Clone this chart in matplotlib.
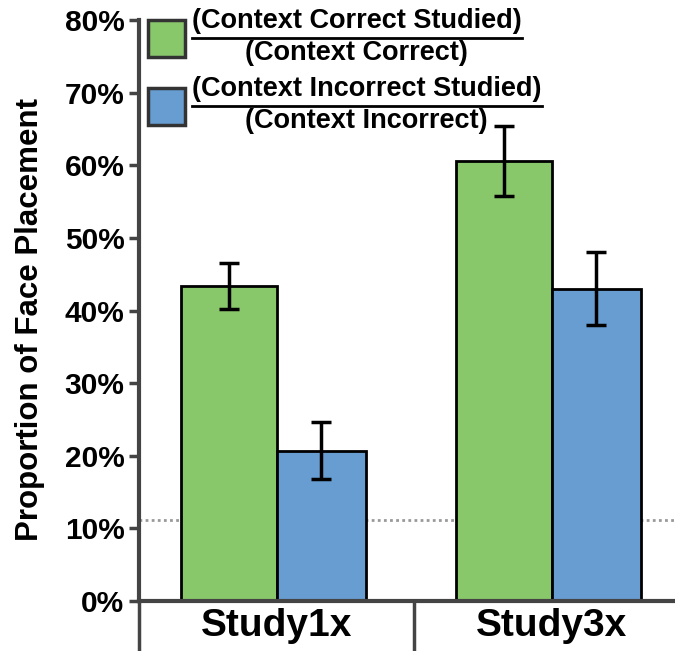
import numpy as np
import matplotlib.pyplot as plt

plt.rcParams['font.family'] = ['Liberation Sans', 'DejaVu Sans']
plt.rcParams['font.weight'] = 'bold'
plt.rcParams['axes.labelweight'] = 'bold'

groups = ["Study1x", "Study3x"]
correct = [0.434, 0.606]
correct_err = [0.032, 0.048]
incorrect = [0.207, 0.430]
incorrect_err = [0.039, 0.050]
chance = 1 / 9

green = '#89C86A'
blue = '#689DD2'
axis_gray = '#444444'

W, H = 675, 651
fig = plt.figure(figsize=(W / 100, H / 100), dpi=100)
ax = fig.add_axes([139 / W, 50 / H, 536 / W, 581 / H])

x = np.arange(len(groups))
wg, wb = 0.347, 0.327
ax.bar(x - wg, correct, wg, align='edge', color=green, edgecolor='black', linewidth=2, zorder=2)
ax.bar(x, incorrect, wb, align='edge', color=blue, edgecolor='black', linewidth=2, zorder=2)
ax.errorbar(x - wg / 2, correct, yerr=correct_err, fmt='none', ecolor='black',
            elinewidth=2.5, capsize=7, capthick=2.5, zorder=3)
ax.errorbar(x + wb / 2, incorrect, yerr=incorrect_err, fmt='none', ecolor='black',
            elinewidth=2.5, capsize=7, capthick=2.5, zorder=3)

ax.axhline(chance, color='#999999', linestyle=(0, (1, 1.2)), linewidth=2, zorder=1)

yt = np.arange(0, 0.81, 0.1)
ax.set_yticks(yt)
ax.set_yticklabels([f"{int(round(v * 100))}%" for v in yt], fontsize=21.5)

# group separators as long ticks below the axis, names on minor ticks
ax.set_xticks([-0.5, 0.5, 1.5])
ax.set_xticklabels([])
ax.tick_params(axis='x', which='major', length=36, width=2.5, color=axis_gray)
ax.set_xticks(x, minor=True)
ax.set_xticklabels(groups, minor=True, fontsize=28)
ax.tick_params(axis='x', which='minor', length=0, pad=5)
ax.tick_params(axis='y', length=7.5, width=2.5, color=axis_gray, pad=3)

# limits after the ticks, otherwise set_xticks widens the view to 1.5
ax.set_xlim(-0.5, 1.449)
ax.set_ylim(0, 0.8)

for s in ['top', 'right']:
    ax.spines[s].set_visible(False)
for s in ['left', 'bottom']:
    ax.spines[s].set_color(axis_gray)
    ax.spines[s].set_linewidth(3)

ax.set_ylabel('Proportion of Face Placement', fontsize=22.5)
ax.yaxis.set_label_coords(-0.175, 0.485)

# legend: fraction-style labels with a colored box
legend_items = [
    (green, "(Context Correct Studied)", "(Context Correct)", 38),
    (blue, "(Context Incorrect Studied)", "(Context Incorrect)", 106),
]
renderer = fig.canvas.get_renderer()
for color, top, bottom, ybar in legend_items:
    yc = 1 - ybar / H
    fig.patches.append(plt.Rectangle((148 / W, yc - 19 / H), 37 / W, 37 / H,
                                     transform=fig.transFigure, facecolor=color,
                                     edgecolor='#333333', linewidth=2.5))
    t = fig.text(192 / W, yc + 17 / H, top, ha='left', va='center', fontsize=19.5)
    width = t.get_window_extent(renderer).width / W
    xmid = 192 / W + width / 2
    fig.text(xmid, yc - 15 / H, bottom, ha='center', va='center', fontsize=19.5)
    fig.add_artist(plt.Line2D([192 / W, 192 / W + width], [yc, yc],
                              transform=fig.transFigure, color='black', linewidth=2))

fig.savefig('out.png', dpi=100)
